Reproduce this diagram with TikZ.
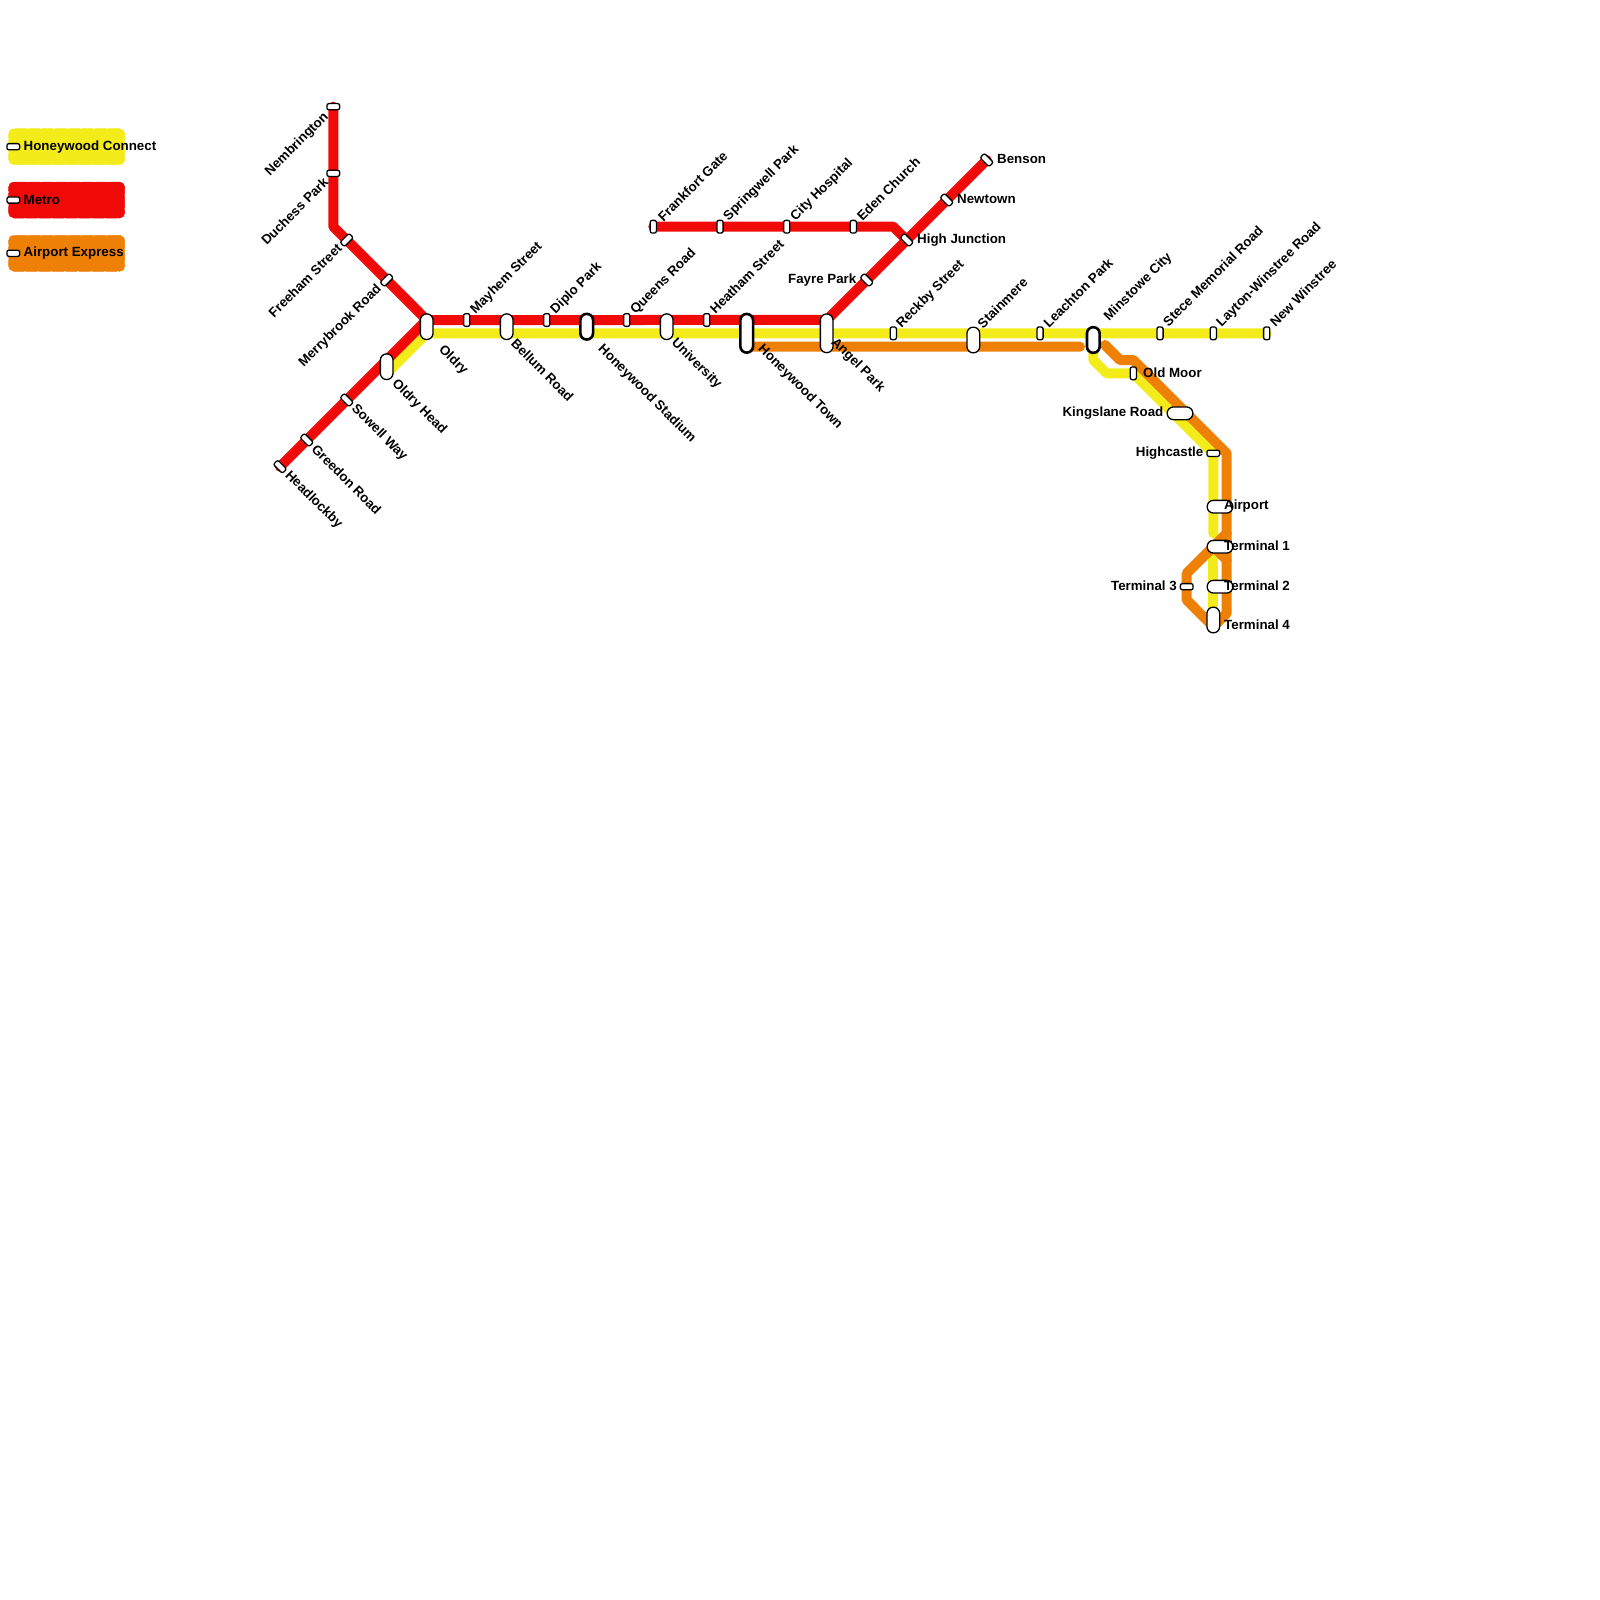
\documentclass[tikz,border=0pt]{standalone}
\usepackage{fontspec}
\setmainfont{Liberation Sans}
\usetikzlibrary{backgrounds,calc}
\definecolor{cyel}{HTML}{F3EC1A}
\definecolor{cred}{HTML}{EF0A08}
\definecolor{cora}{HTML}{EE8006}
\tikzset{
 x=1pt,y=-1pt,
 sta/.style={draw=black,fill=white,line width=1.3pt,inner sep=0pt,outer sep=0pt},
 hs/.style={sta,minimum width=12.7pt,minimum height=6.2pt,rounded corners=2pt},
 vs/.style={sta,minimum width=6.2pt,minimum height=12.7pt,rounded corners=2pt},
 ds/.style={hs,rotate=-45},
 us/.style={hs,rotate=45},
 vp/.style={sta,minimum width=12.7pt,minimum height=25.7pt,rounded corners=6.3pt},
 hp/.style={sta,minimum width=25.7pt,minimum height=12.7pt,rounded corners=6.3pt},
 vb/.style={sta,minimum width=12.7pt,minimum height=38.7pt,rounded corners=6.3pt},
 thick st/.style={line width=2.6pt},
 lab/.style={font=\bfseries\fontsize{13.33}{13.33}\selectfont,inner sep=0pt,text=black},
 ne/.style={lab,rotate=45,anchor=west},
 se/.style={lab,rotate=-45,anchor=west},
 sw/.style={lab,rotate=45,anchor=east},
 ee/.style={lab,anchor=west},
 ww/.style={lab,anchor=east},
 trk/.style={line width=10pt,line cap=round,line join=round},
 legbox/.style={minimum width=116pt,minimum height=36pt,rounded corners=5pt,inner sep=0pt,line width=0.5pt,dash pattern=on 11.3pt off 2pt},
}
\begin{document}
\begin{tikzpicture}
\useasboundingbox (0,0) rectangle (1600,1600);
% legend
\node[legbox,fill=cyel,draw=cyel] (legy) at (66.7,146.7) {};
\node[legbox,fill=cred,draw=cred] (legr) at (66.7,200) {};
\node[legbox,fill=cora,draw=cora] (lego) at (66.7,253.3) {};
\node[hs] (sy) at (13.3,146.7) {};
\node[hs] (sr) at (13.3,200) {};
\node[hs] (so) at (13.3,253.3) {};
\node[ee] (ty) at (23.5,146.7) {Honeywood Connect};
\node[ee] (tr) at (23.5,199.5) {Metro};
\node[ee] (to) at (23.5,253.5) {Airport Express};
% stations
\node[hs] (nemb) at (333.3,106.7) {};
\node[hs] (duch) at (333.3,173.3) {};
\node[us] (free) at (346.7,240) {};
\node[us] (merr) at (386.7,280) {};
\node[vp] (oldry) at (426.7,326.7) {};
\node[vp] (ohead) at (386.7,366.7) {};
\node[ds] (sowe) at (346.7,400) {};
\node[ds] (gree) at (306.7,440) {};
\node[ds] (head) at (280,466.7) {};
\node[vs] (mayh) at (466.7,320) {};
\node[vp] (bell) at (506.7,326.7) {};
\node[vs] (dipl) at (546.7,320) {};
\node[vp,thick st] (hstad) at (586.7,326.7) {};
\node[vs] (quee) at (626.7,320) {};
\node[vp] (univ) at (666.7,326.7) {};
\node[vs] (heat) at (706.7,320) {};
\node[vb,thick st] (htown) at (746.7,333.3) {};
\node[vb] (angel) at (826.7,333.3) {};
\node[vs] (fran) at (653.3,226.7) {};
\node[vs] (spri) at (720,226.7) {};
\node[vs] (city) at (786.7,226.7) {};
\node[vs] (eden) at (853.3,226.7) {};
\node[ds] (fayr) at (866.7,280) {};
\node[ds] (high) at (906.7,240) {};
\node[ds] (newt) at (946.7,200) {};
\node[ds] (bens) at (986.7,160) {};
\node[vs] (reck) at (893.3,333.3) {};
\node[vp] (stai) at (973.3,340) {};
\node[vs] (leac) at (1040,333.3) {};
\node[vp,thick st] (mins) at (1093.3,340) {};
\node[vs] (stec) at (1160,333.3) {};
\node[vs] (layt) at (1213.3,333.3) {};
\node[vs] (winst) at (1266.7,333.3) {};
\node[vs] (oldm) at (1133.3,373.3) {};
\node[hp] (king) at (1180,413.3) {};
\node[hs] (hcas) at (1213.3,453.3) {};
\node[hp] (airp) at (1220,506.7) {};
\node[hp] (ter1) at (1220,546.7) {};
\node[hp] (ter2) at (1220,586.7) {};
\node[hs] (ter3) at (1186.7,586.7) {};
\node[vp] (ter4) at (1213.3,620) {};
% bends
\coordinate (rb1) at (333.3,226.7);
\coordinate (rb2) at (893.3,226.7);
\coordinate (yb1) at (1093.3,360);
\coordinate (yb2) at (1106.7,373.3);
\coordinate (yend) at (1213.3,533.3);
\coordinate (yt1) at (1213.3,546.7);
\coordinate (os) at (1105,345);
\coordinate (ob1) at (1120,360);
\coordinate (ob2) at (1133.3,360);
\coordinate (ob3) at (1226.7,453.3);
\coordinate (ob4) at (1226.7,613.3);
\coordinate (ob5) at (1226.7,533.3);
\coordinate (ob6) at (1186.7,573.3);
\coordinate (ob7) at (1186.7,600);
\coordinate (ob8) at (1213.3,626.7);
\coordinate (ob9) at (1213.3,546.7);
\coordinate (ob10) at (1226.7,560);
\coordinate (oe) at (1080,346.7);
\begin{scope}[on background layer]
 \draw[trk,cyel] ([yshift=-6.67pt]ohead.center) -- ([yshift=-6.67pt]oldry.center) -- (winst.center);
 \draw[trk,cyel] (mins.center) -- (yb1) -- (yb2) -- (oldm.center) -- (hcas.center) -- (yend);
 \draw[trk,cyel] (yt1) -- (ter4.center);
 \draw[trk,cora] ([yshift=-13.33pt]htown.center) -- (oe);
 \draw[trk,cora] (os) -- (ob1) -- (ob2) -- (ob3) -- (ob4) -- (ob8);
 \draw[trk,cora] (ob5) -- (ob6) -- (ob7) -- (ob8);
 \draw[trk,cora] (ob9) -- (ob10);
 \draw[trk,cred] (nemb.center) -- (duch.center) -- (rb1) -- (free.center) -- (merr.center) -- ([yshift=6.67pt]oldry.center) -- ([yshift=13.33pt]angel.center) -- (fayr.center) -- (high.center) -- (newt.center) -- (bens.center);
 \draw[trk,cred] (head.center) -- (gree.center) -- (sowe.center) -- ([yshift=6.67pt]ohead.center) -- ([yshift=6.67pt]oldry.center);
 \draw[trk,cred] (fran.center) -- (spri.center) -- (city.center) -- (eden.center) -- (rb2) -- (high.center);
\end{scope}
% labels
\node[sw] (lnemb) at (326.5,115) {Nembrington};
\node[sw] (lduch) at (326,180) {Duchess Park};
\node[sw] (lfree) at (339.5,246) {Freeham Street};
\node[sw] (lmerr) at (379.5,287) {Merrybrook Road};
\node[se] (lold) at (440.7,348) {Oldry};
\node[se] (lohe) at (394,381.5) {Oldry Head};
\node[se] (lsow) at (353.5,407) {Sowell Way};
\node[se] (lgre) at (314,447) {Greedon Road};
\node[se] (lhea) at (287,473.5) {Headlockby};
\node[ne] (lmay) at (473,312) {Mayhem Street};
\node[se] (lbel) at (513.5,341) {Bellum Road};
\node[ne] (ldip) at (553,312) {Diplo Park};
\node[se] (lhst) at (600,347) {Honeywood Stadium};
\node[ne] (lque) at (633,312) {Queens Road};
\node[se] (luni) at (673.5,341) {University};
\node[ne] (lhea2) at (712,311.5) {Heatham Street};
\node[se] (lhto) at (760,347) {Honeywood Town};
\node[se] (lang) at (833,340.5) {Angel Park};
\node[ne] (lfra) at (660,219) {Frankfort Gate};
\node[ne] (lspr) at (726,219) {Springwell Park};
\node[ne] (lcit) at (793,219) {City Hospital};
\node[ne] (lede) at (859,218.5) {Eden Church};
\node[ww] (lfay) at (856.5,280) {Fayre Park};
\node[ee] (lhig) at (917,240) {High Junction};
\node[ee] (lnew) at (957,199) {Newtown};
\node[ee] (lben) at (997,159) {Benson};
\node[ne] (lrec) at (899,326) {Reckby Street};
\node[ne] (lsta) at (979.5,326) {Stainmere};
\node[ne] (llea) at (1045.5,325.5) {Leachton Park};
\node[ne] (lmin) at (1106.5,319) {Minstowe City};
\node[ne] (lste) at (1165,324) {Stece Memorial Road};
\node[ne] (llay) at (1219,325) {Layton-Winstree Road};
\node[ne] (lwin) at (1272,324) {New Winstree};
\node[ee] (lold2) at (1143,372.5) {Old Moor};
\node[ww] (lkin) at (1163.5,413.5) {Kingslane Road};
\node[ww] (lhca) at (1203.5,453.5) {Highcastle};
\node[ee] (lair) at (1224,506.5) {Airport};
\node[ee] (lt1) at (1224,545.5) {Terminal 1};
\node[ee] (lt2) at (1224,585.5) {Terminal 2};
\node[ww] (lt3) at (1177,585.5) {Terminal 3};
\node[ee] (lt4) at (1224,625) {Terminal 4};
\end{tikzpicture}
\end{document}
